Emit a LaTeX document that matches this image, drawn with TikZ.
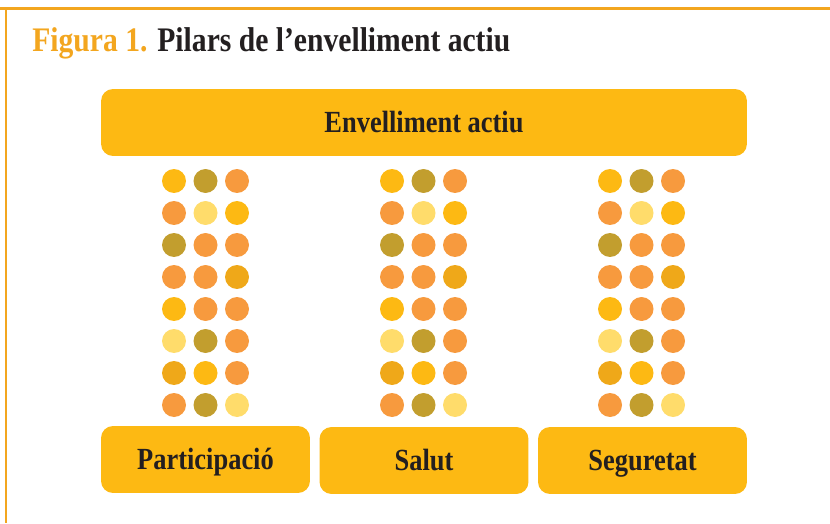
\documentclass[tikz,border=0pt]{standalone}
\usepackage{fontspec}
\setmainfont{Liberation Serif}[FakeStretch=0.86]
\usepackage{tikz}
\definecolor{pilaryellow}{HTML}{FDB913}
\definecolor{pilarolive}{HTML}{C29E2E}
\definecolor{pilarorange}{HTML}{F79A3E}
\definecolor{pilarlight}{HTML}{FFDC6B}
\definecolor{pilargold}{HTML}{EFA819}
\definecolor{framecolor}{HTML}{F3A61F}
\definecolor{textdark}{HTML}{231F20}
\tikzstyle{pilarbox} = [fill=pilaryellow, rectangle, rounded corners=0.24cm,
    text=textdark, font=\fontsize{17.5}{20}\selectfont\bfseries,
    minimum height=1.34cm, inner sep=0pt, text height=12.5pt, text depth=1pt]
\tikzstyle{pilardot} = [circle, inner sep=0pt, minimum size=0.48cm]

\begin{document}
\begin{tikzpicture}[x=0.02cm, y=-0.02cm]
                \useasboundingbox (0,0) rectangle (830,523);
                % frame
                \draw[framecolor, line width=0.05cm] (0,8.5) -- (830,8.5);
                \draw[framecolor, line width=0.05cm] (6,8.5) -- (6,523);
                \node[anchor=base west, text=textdark, font=\fontsize{19.6}{23}\selectfont\bfseries, inner sep=0pt] (title) at (32,52)
                    {\textcolor{framecolor}{Figura 1.} Pilars de l’envelliment actiu};
                % roof
                \node[pilarbox, minimum width=12.92cm] (actiu) at (424,122.5) {Envelliment actiu};
                % columns of dots
                \foreach \ca/\cb/\cc [count=\r from 0] in {pilaryellow/pilarolive/pilarorange,
                    pilarorange/pilarlight/pilaryellow, pilarolive/pilarorange/pilarorange,
                    pilarorange/pilarorange/pilargold, pilaryellow/pilarorange/pilarorange,
                    pilarlight/pilarolive/pilarorange, pilargold/pilaryellow/pilarorange,
                    pilarorange/pilarolive/pilarlight}{
                    \foreach \p in {0,1,2}{
                        \node[pilardot, fill=\ca] (dot\p-\r-a) at (174+218*\p, 181+32*\r) {};
                        \node[pilardot, fill=\cb] (dot\p-\r-b) at (205.5+218*\p, 181+32*\r) {};
                        \node[pilardot, fill=\cc] (dot\p-\r-c) at (237+218*\p, 181+32*\r) {};
                    }
                }
                % bases
                \node[pilarbox, minimum width=4.18cm] (particip) at (205.5,459.5) {Participació};
                \node[pilarbox, minimum width=4.18cm] (salut) at (424,460.5) {Salut};
                \node[pilarbox, minimum width=4.18cm] (segur) at (642.5,460.5) {Seguretat};
            \end{tikzpicture}
\end{document}
